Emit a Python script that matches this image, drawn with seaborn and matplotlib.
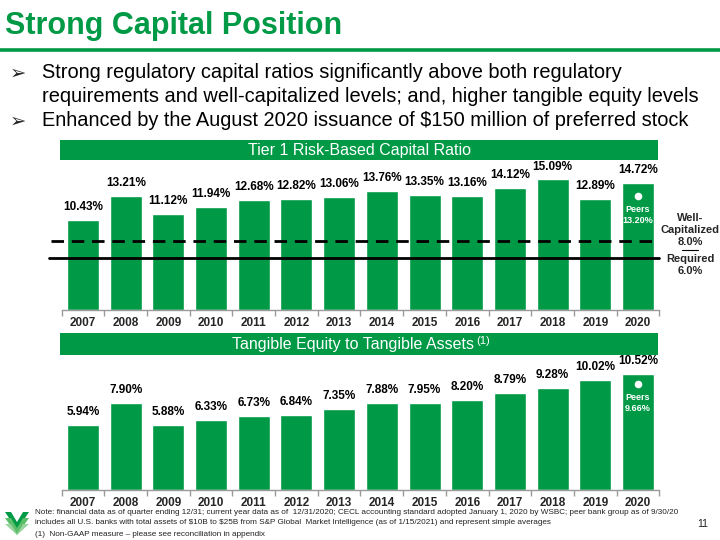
import numpy as np
import pandas as pd
import matplotlib
matplotlib.use("Agg")
import matplotlib.pyplot as plt
from matplotlib.patches import Rectangle, Polygon
from matplotlib.lines import Line2D
import seaborn as sns

years = [str(y) for y in range(2007, 2021)]
tier1 = [10.43, 13.21, 11.12, 11.94, 12.68, 12.82, 13.06, 13.76, 13.35, 13.16, 14.12, 15.09, 12.89, 14.72]
tce = [5.94, 7.90, 5.88, 6.33, 6.73, 6.84, 7.35, 7.88, 7.95, 8.20, 8.79, 9.28, 10.02, 10.52]
peer_tier1 = 13.20
peer_tce = 9.66
well_cap = 8.0
required = 6.0

GREEN = "#009A46"
FONT = ["Liberation Sans", "DejaVu Sans"]

sns.set_theme(style="white")
plt.rcParams["font.family"] = FONT
plt.rcParams["text.parse_math"] = False

W, H = 720, 540
fig = plt.figure(figsize=(7.2, 5.4), dpi=100)
fig.patch.set_facecolor("white")

def fx(px):
    return px / W

def fy(py):
    return 1 - py / H

# Title and rule
fig.text(fx(5), fy(34), "Strong Capital Position", color=GREEN, fontsize=22,
         fontweight="bold", va="baseline", ha="left")
fig.add_artist(Line2D([0, 1], [fy(50), fy(50)], color=GREEN, lw=2.6))

# Bullets
bullets = [
    (73, "\u27a2", "Strong regulatory capital ratios significantly above both regulatory"),
    (96, None, "requirements and well-capitalized levels; and, higher tangible equity levels"),
    (121, "\u27a2", "Enhanced by the August 2020 issuance of $150 million of preferred stock"),
]
for y, b, t in bullets:
    if b:
        fig.text(fx(10), fy(y), b, fontsize=14, va="center", ha="left", family=["DejaVu Sans"])
    fig.text(fx(42), fy(y), t, fontsize=14.4, va="center", ha="left", color="black")

# Banners
def banner(y0, y1, text, cx=360):
    fig.add_artist(Rectangle((fx(60), fy(y1)), fx(658) - fx(60), fy(y0) - fy(y1),
                             transform=fig.transFigure, color=GREEN, lw=0))
    fig.text(fx(cx), fy((y0 + y1) / 2 + 0.5), text, color="white", fontsize=11.5,
             ha="center", va="center")

banner(140, 160, "Tier 1 Risk-Based Capital Ratio", cx=360)
banner(333, 355, "Tangible Equity to Tangible Assets", cx=353)
fig.text(fx(476), fy(341), "(1)", color="white", fontsize=8, ha="left", va="center")

# Axes
left = fx(61.7)
width = fx(659.3) - left
ax1 = fig.add_axes([left, fy(310), width, (310 - 165) / H])
ax2 = fig.add_axes([left, fy(490), width, (490 - 360) / H])

def style_axis(ax, ymax):
    ax.set_xlim(-0.5, 13.5)
    ax.set_ylim(0, ymax)
    for s in ["top", "right", "left"]:
        ax.spines[s].set_visible(False)
    ax.spines["bottom"].set_color("#9a9a9a")
    ax.spines["bottom"].set_linewidth(1.0)
    ax.set_yticks([])
    ax.set_xlabel("")
    ax.set_ylabel("")
    ax.set_xticks(np.arange(len(years)))
    ax.set_xticklabels(years, fontsize=8.5, fontweight="bold")
    ax.tick_params(axis="x", which="major", length=0, pad=5)
    ax.set_xticks(np.arange(-0.5, len(years), 1), minor=True)
    ax.tick_params(axis="x", which="minor", length=4, color="#9a9a9a", width=1, direction="out", bottom=True)
    ax.set_facecolor("none")

df1 = pd.DataFrame({"year": years, "value": tier1})
df2 = pd.DataFrame({"year": years, "value": tce})

sns.barplot(data=df1, x="year", y="value", color=GREEN, saturation=1, width=0.75, ax=ax1)
sns.barplot(data=df2, x="year", y="value", color=GREEN, saturation=1, width=0.75, ax=ax2)
style_axis(ax1, 145 / 8.65)
style_axis(ax2, 130 / 11.0)

for ax, vals in [(ax1, tier1), (ax2, tce)]:
    ax.bar_label(ax.containers[0], labels=[f"{v:.2f}%" for v in vals], padding=5,
                 fontsize=8.5, fontweight="bold", color="black")

# Regulatory lines
ax1.plot([-0.74, 13.5], [well_cap, well_cap], color="black", lw=2.0, ls=(0, (4.5, 2.8)),
         clip_on=False, zorder=3)
ax1.plot([-0.79, 13.5], [required, required], color="black", lw=2.0, clip_on=False, zorder=3)

# Right side labels
fig.text(fx(690), fy(230), "Well-\nCapitalized\n" + f"{well_cap:.1f}%", fontsize=8,
         fontweight="bold", ha="center", va="center", linespacing=1.25)
fig.add_artist(Line2D([fx(682), fx(698)], [fy(250), fy(250)], color="black", lw=0.8))
fig.text(fx(690), fy(265), "Required\n" + f"{required:.1f}%", fontsize=8,
         fontweight="bold", ha="center", va="center", linespacing=1.25)

# Peers markers
for ax, pv in [(ax1, peer_tier1), (ax2, peer_tce)]:
    xi = len(years) - 1
    ax.scatter([xi], [pv], s=30, color="white", zorder=4, linewidths=0)
    ax.annotate("Peers", (xi, pv), xytext=(0, -10), textcoords="offset points",
                ha="center", va="center", color="white", fontsize=6.5, fontweight="bold")
    ax.annotate(f"{pv:.2f}%", (xi, pv), xytext=(0, -18), textcoords="offset points",
                ha="center", va="center", color="white", fontsize=6.5, fontweight="bold")

# Footer
notes = [
    "Note: financial data as of quarter ending 12/31; current year data as of  12/31/2020; CECL accounting standard adopted January 1, 2020 by WSBC; peer bank group as of 9/30/20",
    "includes all U.S. banks with total assets of $10B to $25B from S&P Global  Market Intelligence (as of 1/15/2021) and represent simple averages",
    "(1)  Non-GAAP measure \u2013 please see reconciliation in appendix",
]
for i, n in enumerate(notes):
    fig.text(fx(35), fy(512 + 11 * i), n, fontsize=5.9, ha="left", va="center", color="#222222")
fig.text(fx(708), fy(524), "11", fontsize=7.5, ha="right", va="center", color="#222222")

# Logo (stylised W)
for dy, c in [(0, GREEN), (6, "#5BBF6A"), (12, "#9AD49F")]:
    pts = [(5, 512 + dy), (11, 512 + dy), (17, 522 + dy), (23, 512 + dy), (29, 512 + dy),
           (17, 530 + dy)]
    fig.add_artist(Polygon([(fx(x), fy(min(y, 535))) for x, y in pts], closed=True,
                           transform=fig.transFigure, color=c, lw=0))

fig.savefig("out.png", dpi=100, facecolor="white")
